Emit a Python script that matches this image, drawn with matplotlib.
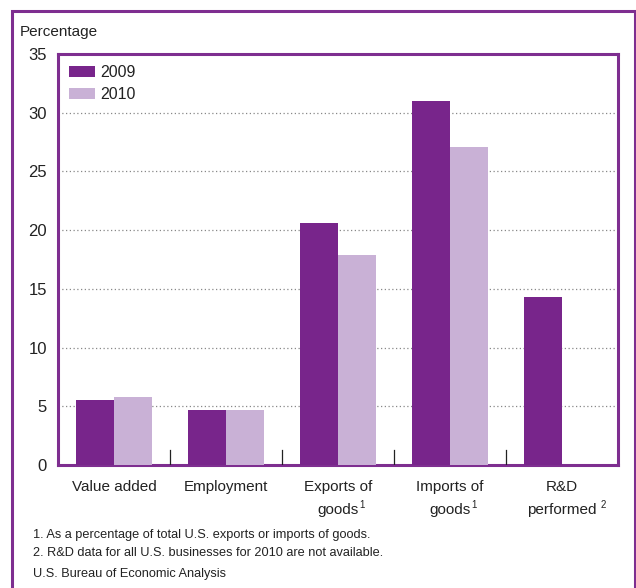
import matplotlib
matplotlib.use("Agg")
import matplotlib.pyplot as plt
import matplotlib.patches as mpatches
import numpy as np

categories = ["Value added", "Employment", "Exports of\ngoods", "Imports of\ngoods", "R&D\nperformed"]
category_notes = ["", "", "1", "1", "2"]
vals_2009 = [5.5, 4.7, 20.6, 31.0, 14.3]
vals_2010 = [5.8, 4.7, 17.9, 27.1, np.nan]
series_names = ["2009", "2010"]
yticks = [0, 5, 10, 15, 20, 25, 30, 35]

plt.rcParams['font.family'] = ['Liberation Sans', 'DejaVu Sans']

dark = "#78258B"
light = "#C9B1D6"
frame = "#7E2E90"
txt = "#222222"
W, H = 636, 588
fig = plt.figure(figsize=(W/100, H/100), dpi=100)
ax = fig.add_axes([58/W, 1-465/H, (618-58)/W, (465-54)/H])

x = np.arange(len(categories))
bw = 0.335
ax.bar(x - bw/2, vals_2009, bw, color=dark, label=series_names[0], zorder=3)
ax.bar(x + bw/2, vals_2010, bw, color=light, label=series_names[1], zorder=3)

ax.set_xlim(-0.5, len(categories) - 0.5)
ax.set_ylim(0, 35)
ax.set_yticks(yticks)
ax.set_yticklabels([str(t) for t in yticks])
for t in yticks[1:-1]:
    ax.axhline(t, color="#888888", lw=0.9, ls=(0, (1, 2)), zorder=1)

ax.tick_params(axis='y', length=0, pad=8, labelsize=12, colors=txt)
ax.set_xticks(x)
ax.set_xticklabels([])
ax.tick_params(axis='x', length=0)

# category labels, line by line, with footnote markers
fig.canvas.draw()
renderer = fig.canvas.get_renderer()
for i, (lab, note) in enumerate(zip(categories, category_notes)):
    lines = lab.split("\n")
    last = None
    for j, line in enumerate(lines):
        last = ax.annotate(line, xy=(x[i], 0), xycoords=('data', 'axes fraction'),
                           xytext=(0, -22 - 23 * j), textcoords='offset pixels',
                           ha='center', va='center', fontsize=11, color=txt,
                           annotation_clip=False)
    if note:
        bb = last.get_window_extent(renderer)
        half_w = bb.width / 2
        gap = 4 if note == "2" else 0.5
        ax.annotate(note, xy=(x[i], 0), xycoords=('data', 'axes fraction'),
                    xytext=(half_w + gap, -22 - 23 * (len(lines) - 1) + 5),
                    textcoords='offset pixels', ha='left', va='center',
                    fontsize=7, color=txt, annotation_clip=False)

# group separator marks
for b in np.arange(0.5, len(categories) - 0.5, 1.0):
    ax.plot([b, b], [0, 1.25], color=txt, lw=0.9, zorder=4)

for s in ax.spines.values():
    s.set_color(frame)
    s.set_linewidth(2.2)

leg = ax.legend(loc="upper left", frameon=False, fontsize=11.5, handlelength=1.6,
                handleheight=0.7, handletextpad=0.35, labelspacing=0.45,
                borderaxespad=0.3, bbox_to_anchor=(0.0, 1.0))
for t in leg.get_texts():
    t.set_color(txt)

# outer border
fig.patches.append(mpatches.Rectangle((12/W, -0.05), (635-12)/W, 1.05 - 11/H,
                                      transform=fig.transFigure, fill=False,
                                      edgecolor=frame, lw=2.2, clip_on=False))

fig.text(20/W, 1-32/H, "Percentage", fontsize=11, va="center", ha="left", color=txt)
fig.text(33/W, 1-535/H, "1. As a percentage of total U.S. exports or imports of goods.",
         fontsize=9.2, va="center", ha="left", color=txt)
fig.text(33/W, 1-553/H, "2. R&D data for all U.S. businesses for 2010 are not available.",
         fontsize=9.2, va="center", ha="left", color=txt)
fig.text(33/W, 1-574/H, "U.S. Bureau of Economic Analysis",
         fontsize=9.2, va="center", ha="left", color=txt)

fig.savefig("out.png", dpi=100)
